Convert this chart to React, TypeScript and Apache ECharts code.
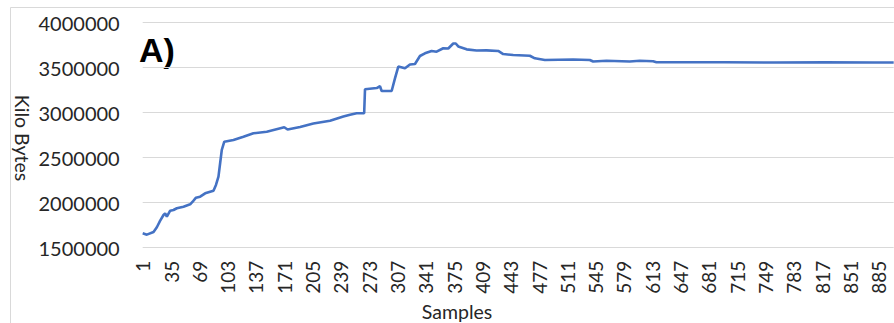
import React, { useEffect, useRef } from "react";
import * as echarts from "echarts";

const sampleCount = 903;
const categories: string[] = Array.from({ length: sampleCount }, (_, i) => String(i + 1));

// Sample numbers and Kilo Bytes
const samples: number[] = [
  1, 6, 14, 18, 22, 26, 28, 30, 34, 38, 42, 50, 58, 61, 65, 70, 76, 82, 86, 89,
  92, 94, 96, 99, 110, 122, 134, 150, 171, 175, 190, 206, 226, 242, 250, 258, 267, 268,
  282, 286, 288, 300, 304, 308, 316, 322, 328, 334, 340, 348, 354, 362, 368, 374,
  377, 380, 390, 402, 414, 428, 434, 446, 466, 472, 484, 518, 538, 542, 558, 586,
  598, 614, 618, 700, 760, 820, 880, 903,
];
const kiloBytes: number[] = [
  1660000, 1645000, 1674000, 1727000, 1800000, 1863000, 1882000, 1844000, 1911000,
  1919000, 1938000, 1956000, 1982000, 2011000, 2056000, 2067000, 2104000, 2122000,
  2133000, 2197000, 2289000, 2438000, 2586000, 2678000, 2697000, 2733000, 2771000,
  2789000, 2838000, 2813000, 2841000, 2880000, 2911000, 2958000, 2978000, 2994000,
  2994000, 3260000, 3274000, 3294000, 3241000, 3241000, 3382000, 3513000, 3493000,
  3536000, 3541000, 3630000, 3660000, 3686000, 3678000, 3716000, 3713000, 3769000,
  3769000, 3736000, 3704000, 3691000, 3693000, 3686000, 3652000, 3641000, 3633000,
  3604000, 3586000, 3591000, 3586000, 3569000, 3578000, 3569000, 3578000, 3571000,
  3560000, 3560000, 3558000, 3560000, 3558000, 3558000,
];

const yMin = 1500000;
const yMax = 4000000;
const yStep = 500000;

export default function App() {
  const ref = useRef<HTMLDivElement>(null);
  useEffect(() => {
    if (!ref.current) return;
    const chart = echarts.init(ref.current, null, { renderer: "svg" });
    const font = "Lato, 'Open Sans', sans-serif";
    const textColor = "#262626";
    chart.setOption({
      animation: false,
      backgroundColor: "#ffffff",
      grid: { left: 142.7, right: 0.3, top: 22.7, bottom: 75.3, containLabel: false },
      xAxis: {
        type: "category",
        data: categories,
        boundaryGap: false,
        axisLine: { show: false },
        axisTick: { show: false },
        axisLabel: {
          interval: 33,
          rotate: 90,
          margin: 13,
          fontSize: 19,
          fontFamily: font,
          color: textColor,
        },
        splitLine: { show: false },
      },
      yAxis: {
        type: "value",
        min: yMin,
        max: yMax,
        interval: yStep,
        axisLine: { show: false },
        axisTick: { show: false },
        axisLabel: {
          margin: 23,
          fontSize: 20,
          fontFamily: font,
          color: textColor,
          formatter: (v: number) => String(v),
        },
        splitLine: { lineStyle: { color: "#d9d9d9", width: 1 } },
      },
      series: [
        {
          type: "line",
          data: samples.map((s, i) => [s - 1, kiloBytes[i]]),
          showSymbol: false,
          symbol: "none",
          lineStyle: { color: "#4472C4", width: 2.6 },
          itemStyle: { color: "#4472C4" },
        },
      ],
      graphic: [
        {
          type: "rect",
          shape: { x: 10.5, y: 7.5, width: 1000, height: 1000 },
          style: { fill: "none", stroke: "#d9d9d9", lineWidth: 1 },
          silent: true,
        },
        {
          type: "text",
          x: 22,
          y: 138,
          rotation: -Math.PI / 2,
          style: {
            text: "Kilo Bytes",
            fontSize: 19.5,
            fontFamily: font,
            fill: textColor,
            align: "center",
            verticalAlign: "middle",
          },
        },
        {
          type: "text",
          x: 457,
          y: 311,
          style: {
            text: "Samples",
            fontSize: 19.5,
            fontFamily: font,
            fill: textColor,
            align: "center",
            verticalAlign: "middle",
          },
        },
        {
          type: "text",
          x: 139,
          y: 50,
          style: {
            text: "A)",
            fontSize: 34,
            fontWeight: "bold",
            fontFamily: "'Liberation Sans', Arial, sans-serif",
            fill: "#000000",
            align: "left",
            verticalAlign: "middle",
          },
        },
      ],
    });
    return () => chart.dispose();
  }, []);
  return (
    <div
      ref={ref}
      style={{ position: "fixed", left: 0, top: 0, width: 894, height: 323 }}
    />
  );
}
